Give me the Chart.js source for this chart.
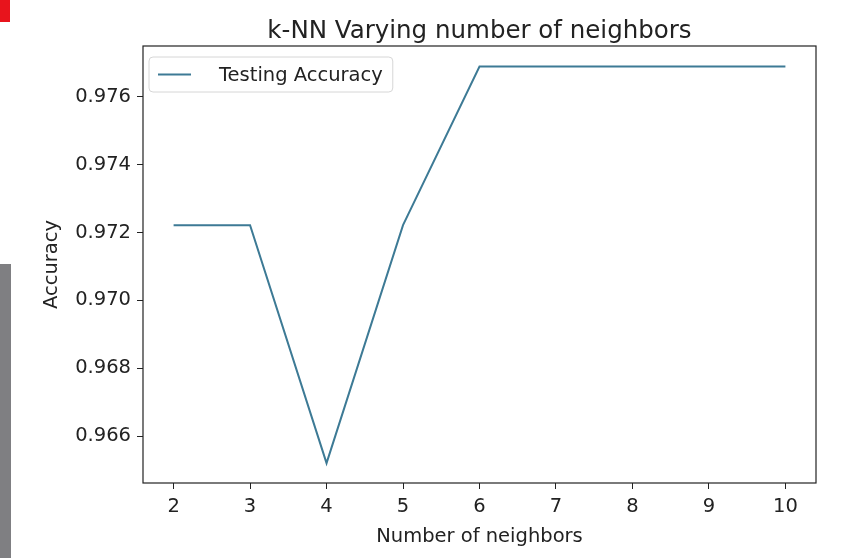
<!DOCTYPE html>
<html>
<head>
<meta charset="utf-8">
<script src="https://cdn.jsdelivr.net/npm/chart.js@4"></script>
<style>
  body { margin: 0; background: #fff; }
  #wrap { position: relative; width: 843px; height: 558px; }
  .red { position: absolute; left: 0; top: 0; width: 10px; height: 22px; background: #e8141c; }
  .grey { position: absolute; left: 0; top: 264px; width: 11px; height: 294px; background: #7f7f82; }
</style>
</head>
<body>
<div id="wrap">
  <canvas id="myChart" width="843" height="558"></canvas>
  <div class="red"></div>
  <div class="grey"></div>
</div>
<script>
const canvas = document.getElementById('myChart')

const chartTitle = 'k-NN Varying number of neighbors'
const seriesLabel = 'Testing Accuracy'
const xLabel = 'Number of neighbors'
const yLabel = 'Accuracy'
const neighbors = [2, 3, 4, 5, 6, 7, 8, 9, 10]
const accuracy = [0.97222, 0.97222, 0.96520, 0.97222, 0.97690, 0.97690, 0.97690, 0.97690, 0.97690]
const xTicks = [2, 3, 4, 5, 6, 7, 8, 9, 10]
const yTicks = [0.966, 0.968, 0.970, 0.972, 0.974, 0.976]

const fontFamily = 'DejaVu Sans'
const lineColor = '#3d7a95'
const textSize = 19.5

// frame, title and the legend box inside the plot (matplotlib style)
const mplPlugin = {
    id: 'mpl',
    afterDraw(chart) {
        const ctx = chart.ctx
        const a = chart.chartArea
        ctx.save()
        ctx.strokeStyle = '#222'
        ctx.lineWidth = 1.2
        ctx.strokeRect(a.left, a.top, a.right - a.left, a.bottom - a.top)

        ctx.fillStyle = '#222'
        ctx.font = `24.5px "${fontFamily}"`
        ctx.textAlign = 'center'
        ctx.textBaseline = 'alphabetic'
        ctx.fillText(chartTitle, (a.left + a.right) / 2, a.top - 8)

        // legend
        const lx = a.left + 6, ly = a.top + 11
        ctx.font = `${textSize}px "${fontFamily}"`
        const tw = ctx.measureText(seriesLabel).width
        const w = tw + 80, h = 35
        ctx.fillStyle = 'rgba(255,255,255,0.8)'
        ctx.strokeStyle = '#d6d6d6'
        ctx.lineWidth = 1
        ctx.beginPath()
        ctx.roundRect(lx, ly, w, h, 4)
        ctx.fill()
        ctx.stroke()
        ctx.strokeStyle = lineColor
        ctx.lineWidth = 2
        ctx.beginPath()
        ctx.moveTo(lx + 9, ly + h / 2)
        ctx.lineTo(lx + 42, ly + h / 2)
        ctx.stroke()
        ctx.fillStyle = '#222'
        ctx.textAlign = 'left'
        ctx.textBaseline = 'middle'
        ctx.fillText(seriesLabel, lx + 70, ly + h / 2 + 1)
        ctx.restore()
    }
}

function createChart() {
    const config = {
        type: 'line',
        data: {
            datasets: [{
                label: seriesLabel,
                data: neighbors.map((n, i) => ({x: n, y: accuracy[i]})),
                borderColor: lineColor,
                borderWidth: 2,
                pointRadius: 0,
                tension: 0,
                fill: false
            }]
        },
        options: {
            responsive: false,
            animation: false,
            layout: {
                padding: {left: 0, right: 27, top: 46, bottom: 0}
            },
            plugins: {
                legend: {display: false},
                tooltip: {enabled: false}
            },
            scales: {
                x: {
                    type: 'linear',
                    min: 1.6,
                    max: 10.4,
                    afterBuildTicks: s => { s.ticks = xTicks.map(v => ({value: v})) },
                    afterFit: s => { s.height = 75 },
                    grid: {drawOnChartArea: false, drawTicks: true, tickLength: 6, color: '#222', tickWidth: 1},
                    border: {display: false},
                    ticks: {color: '#222', padding: 6, font: {family: fontFamily, size: textSize}, maxRotation: 0},
                    title: {display: true, text: xLabel, color: '#222', font: {family: fontFamily, size: textSize}, padding: {top: 0, bottom: 9}}
                },
                y: {
                    min: 0.964614,
                    max: 0.977504,
                    afterBuildTicks: s => { s.ticks = yTicks.map(v => ({value: v})) },
                    afterFit: s => { s.width = 143 },
                    grid: {drawOnChartArea: false, drawTicks: true, tickLength: 6, color: '#222', tickWidth: 1},
                    border: {display: false},
                    ticks: {color: '#222', padding: 6, font: {family: fontFamily, size: textSize}, callback: v => v.toFixed(3)},
                    title: {display: true, text: yLabel, color: '#222', font: {family: fontFamily, size: textSize}, padding: {top: 40, bottom: 0}}
                }
            }
        },
        plugins: [mplPlugin]
    }

    return new Chart(canvas, config)
}

const myChart = createChart()
</script>
</body>
</html>
